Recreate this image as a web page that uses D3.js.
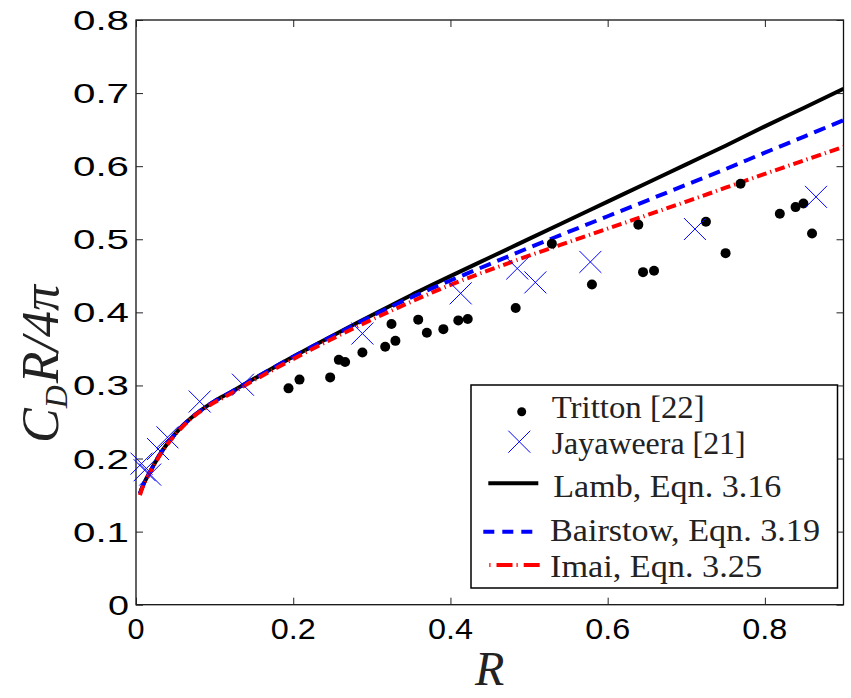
<!DOCTYPE html>
<html><head><meta charset="utf-8">
<script src="https://cdn.jsdelivr.net/npm/d3@7"></script>
<style>body{margin:0;background:#fff}svg{display:block}</style>
</head><body>
<svg id="chart" width="851" height="698"></svg>
<script>
// ---- data ----
const xTicks = [0, 0.2, 0.4, 0.6, 0.8];
const xTickLabels = ["0", "0.2", "0.4", "0.6", "0.8"];
const yTicks = [0, 0.1, 0.2, 0.3, 0.4, 0.5, 0.6, 0.7, 0.8];
const yTickLabels = ["0", "0.1", "0.2", "0.3", "0.4", "0.5", "0.6", "0.7", "0.8"];

const trittonR = [0.194,0.208,0.247,0.258,0.266,0.288,0.317,0.330,0.325,0.359,0.370,0.391,0.410,0.422,0.483,0.529,0.580,0.639,0.645,0.659,0.725,0.750,0.769,0.819,0.839,0.849,0.860];
const trittonV = [0.296,0.308,0.311,0.335,0.332,0.345,0.353,0.361,0.384,0.390,0.372,0.377,0.389,0.391,0.406,0.494,0.438,0.520,0.455,0.457,0.524,0.481,0.576,0.535,0.544,0.549,0.508];

const jayR = [0.007,0.011,0.018,0.028,0.040,0.081,0.136,0.288,0.413,0.485,0.508,0.578,0.711,0.865];
const jayV = [0.193,0.184,0.178,0.213,0.229,0.278,0.301,0.371,0.426,0.460,0.441,0.469,0.514,0.558];

const curveR = [0.005,0.01,0.02,0.03,0.04,0.05,0.06,0.07,0.08,0.10,0.12,0.15,0.19,0.25,0.30,0.35,0.40,0.45,0.50,0.55,0.60,0.65,0.70,0.75,0.80,0.85,0.90];
const lambV = [0.152,0.166,0.186,0.205,0.2205,0.234,0.2455,0.2555,0.264,0.2785,0.2905,0.309,0.3335,0.368,0.396,0.4235,0.4496,0.475,0.5005,0.526,0.5515,0.577,0.6025,0.628,0.6545,0.680,0.706];
const bairV = [0.152,0.166,0.186,0.205,0.2205,0.234,0.2455,0.2555,0.264,0.2785,0.2905,0.309,0.3335,0.3675,0.395,0.4205,0.4436,0.466,0.4885,0.510,0.5315,0.553,0.5745,0.596,0.6185,0.6405,0.663];
const imaiV = [0.150,0.165,0.185,0.204,0.2195,0.233,0.2445,0.2545,0.263,0.277,0.2885,0.307,0.3305,0.364,0.390,0.4145,0.4376,0.458,0.4775,0.496,0.5145,0.533,0.5515,0.5705,0.5895,0.608,0.6265];

const legendLabels = ["Tritton [22]", "Jayaweera [21]", "Lamb, Eqn. 3.16", "Bairstow, Eqn. 3.19", "Imai, Eqn. 3.25"];

// ---- layout ----
const svg = d3.select("#chart");
const x = d3.scaleLinear().domain([0, 0.9]).range([136, 843.5]);
const y = d3.scaleLinear().domain([0, 0.8]).range([604.7, 20]);
const x0 = x.range()[0], x1 = x.range()[1], y0 = y.range()[0], y1 = y.range()[1];

svg.append("rect").attr("x", x0).attr("y", y1).attr("width", x1 - x0).attr("height", y0 - y1)
  .attr("fill", "#fff").attr("stroke", "#111").attr("stroke-width", 1.3);

const tickLen = 7;
const gx = svg.append("g").attr("transform", `translate(0,${y0})`)
  .call(d3.axisBottom(x).tickValues(xTicks).tickSize(-tickLen).tickFormat(""));
const gxt = svg.append("g").attr("transform", `translate(0,${y1})`)
  .call(d3.axisTop(x).tickValues(xTicks).tickSize(-tickLen).tickFormat(""));
const gy = svg.append("g").attr("transform", `translate(${x0},0)`)
  .call(d3.axisLeft(y).tickValues(yTicks).tickSize(-tickLen).tickFormat(""));
const gyr = svg.append("g").attr("transform", `translate(${x1},0)`)
  .call(d3.axisRight(y).tickValues(yTicks).tickSize(-tickLen).tickFormat(""));
[gx, gxt, gy, gyr].forEach(g => {
  g.select(".domain").remove();
  g.selectAll("line").attr("stroke", "#222").attr("stroke-width", 1);
});

svg.append("g").selectAll("text").data(xTicks).join("text")
  .attr("x", d => x(d)).attr("y", 639)
  .attr("text-anchor", "middle")
  .attr("font-family", "Liberation Sans, Arial, sans-serif").attr("font-size", 29)
  .attr("textLength", (d, i) => xTickLabels[i].length === 1 ? 17 : 45)
  .attr("lengthAdjust", "spacingAndGlyphs")
  .text((d, i) => xTickLabels[i]);

svg.append("g").selectAll("text").data(yTicks).join("text")
  .attr("x", 129).attr("y", d => y(d) + 10)
  .attr("text-anchor", "end")
  .attr("font-family", "Liberation Sans, Arial, sans-serif").attr("font-size", 28)
  .attr("textLength", (d, i) => yTickLabels[i].length === 1 ? 21 : 56)
  .attr("lengthAdjust", "spacingAndGlyphs")
  .text((d, i) => yTickLabels[i]);

svg.append("text").attr("x", (x0 + x1) / 2).attr("y", 685)
  .attr("text-anchor", "middle").attr("font-family", "Liberation Serif, serif")
  .attr("font-style", "italic").attr("font-size", 48).attr("fill", "#222").text("R");

const yl = svg.append("text").attr("transform", "translate(58,364) rotate(-90)")
  .attr("text-anchor", "middle").attr("font-family", "Liberation Serif, serif")
  .attr("font-style", "italic").attr("font-size", 52).attr("fill", "#222");
yl.append("tspan").text("C");
yl.append("tspan").attr("font-size", 32).attr("dy", 9).text("D");
yl.append("tspan").attr("dy", -9).attr("dx", 2).text("R/4π");

svg.append("clipPath").attr("id", "pc").append("rect")
  .attr("x", x0).attr("y", y1).attr("width", x1 - x0).attr("height", y0 - y1);
const line = d3.line().x(d => x(d[0])).y(d => y(d[1])).curve(d3.curveCatmullRom.alpha(0.5));
const plot = svg.append("g").attr("clip-path", "url(#pc)");

plot.append("path").datum(d3.zip(curveR, lambV)).attr("d", line)
  .attr("fill", "none").attr("stroke", "#000").attr("stroke-width", 4);
plot.append("path").datum(d3.zip(curveR, bairV)).attr("d", line)
  .attr("fill", "none").attr("stroke", "#0000ff").attr("stroke-width", 4)
  .attr("stroke-dasharray", "12,7");
plot.append("path").datum(d3.zip(curveR, imaiV)).attr("d", line)
  .attr("fill", "none").attr("stroke", "#ff0000").attr("stroke-width", 4)
  .attr("stroke-dasharray", "10,4,1.2,4");

plot.append("g").selectAll("circle").data(d3.zip(trittonR, trittonV)).join("circle")
  .attr("cx", d => x(d[0])).attr("cy", d => y(d[1])).attr("r", 5).attr("fill", "#000");

const cross = (g, cx, cy, s) => {
  g.append("line").attr("x1", cx - s).attr("y1", cy - s).attr("x2", cx + s).attr("y2", cy + s);
  g.append("line").attr("x1", cx - s).attr("y1", cy + s).attr("x2", cx + s).attr("y2", cy - s);
};
const jg = svg.append("g").attr("stroke", "#0000ff").attr("stroke-width", 1);
d3.zip(jayR, jayV).forEach(d => cross(jg, x(d[0]), y(d[1]), 11));

const lg = svg.append("g");
lg.append("rect").attr("x", 471).attr("y", 385).attr("width", 366.5).attr("height", 203)
  .attr("fill", "#fff").attr("stroke", "#000").attr("stroke-width", 1.5);
const lText = [[551.7, 418.3, 153], [551.7, 454, 194], [553.3, 497.3, 228], [550, 541, 270], [550, 577.3, 212]];
lg.selectAll("text").data(legendLabels).join("text")
  .attr("x", (d, i) => lText[i][0]).attr("y", (d, i) => lText[i][1])
  .attr("textLength", (d, i) => lText[i][2]).attr("lengthAdjust", "spacingAndGlyphs")
  .attr("font-family", "Liberation Serif, serif").attr("font-size", 31).attr("fill", "#222")
  .text(d => d);
lg.append("circle").attr("cx", 521.7).attr("cy", 411.7).attr("r", 4.5).attr("fill", "#000");
const lj = lg.append("g").attr("stroke", "#0000ff").attr("stroke-width", 1);
cross(lj, 519.3, 441.7, 11);
lg.append("line").attr("x1", 488.3).attr("x2", 538.3).attr("y1", 483.3).attr("y2", 483.3)
  .attr("stroke", "#000").attr("stroke-width", 4);
lg.append("line").attr("x1", 483.3).attr("x2", 534).attr("y1", 531.7).attr("y2", 531.7)
  .attr("stroke", "#0000ff").attr("stroke-width", 4).attr("stroke-dasharray", "11,8");
lg.append("line").attr("x1", 489.3).attr("x2", 540).attr("y1", 565).attr("y2", 565)
  .attr("stroke", "#ff0000").attr("stroke-width", 4).attr("stroke-dasharray", "1.2,6,16,4,1.2,6,16");
</script>
</body></html>
